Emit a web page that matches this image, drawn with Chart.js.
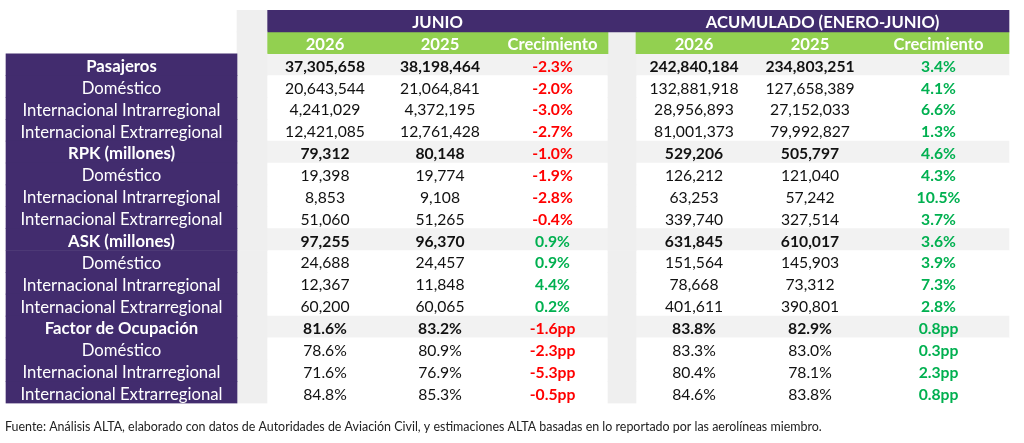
<!DOCTYPE html>
<html lang="es">
<head>
<meta charset="utf-8">
<title>ALTA - tráfico junio</title>
<script src="https://cdn.jsdelivr.net/npm/chart.js@4.4.1/dist/chart.umd.min.js"></script>
<style>
  html, body { margin: 0; padding: 0; background: #fff; }
  #wrap { position: relative; width: 1024px; height: 443px; }
</style>
</head>
<body>
<div id="wrap"><canvas id="tbl"></canvas></div>
<script>
// ---- data ----
const categories = [
  'Pasajeros', 'Doméstico', 'Internacional Intrarregional', 'Internacional Extrarregional',
  'RPK (millones)', 'Doméstico', 'Internacional Intrarregional', 'Internacional Extrarregional',
  'ASK (millones)', 'Doméstico', 'Internacional Intrarregional', 'Internacional Extrarregional',
  'Factor de Ocupación', 'Doméstico', 'Internacional Intrarregional', 'Internacional Extrarregional'
];
const totalRows = [0, 4, 8, 12];
// 'n' = integer count, 'p' = load factor in % (growth shown in pp)
const rowFormat = ['n','n','n','n', 'n','n','n','n', 'n','n','n','n', 'p','p','p','p'];

const periodHeaders = ['JUNIO', 'ACUMULADO (ENERO-JUNIO)'];
const columnHeaders = ['2026', '2025', 'Crecimiento'];

const jun2026 = [37305658, 20643544, 4241029, 12421085, 79312, 19398, 8853, 51060, 97255, 24688, 12367, 60200, 81.6, 78.6, 71.6, 84.8];
const jun2025 = [38198464, 21064841, 4372195, 12761428, 80148, 19774, 9108, 51265, 96370, 24457, 11848, 60065, 83.2, 80.9, 76.9, 85.3];
const junGrowth = [-2.3, -2.0, -3.0, -2.7, -1.0, -1.9, -2.8, -0.4, 0.9, 0.9, 4.4, 0.2, -1.6, -2.3, -5.3, -0.5];

const acc2026 = [242840184, 132881918, 28956893, 81001373, 529206, 126212, 63253, 339740, 631845, 151564, 78668, 401611, 83.8, 83.3, 80.4, 84.6];
const acc2025 = [234803251, 127658389, 27152033, 79992827, 505797, 121040, 57242, 327514, 610017, 145903, 73312, 390801, 82.9, 83.0, 78.1, 83.8];
const accGrowth = [3.4, 4.1, 6.6, 1.3, 4.6, 4.3, 10.5, 3.7, 3.6, 3.9, 7.3, 2.8, 0.8, 0.3, 2.3, 0.8];

const footnote = 'Fuente: Análisis ALTA, elaborado con datos de Autoridades de Aviación Civil, y estimaciones ALTA basadas en lo reportado por las aerolíneas miembro.';

// ---- layout & style ----
const W = 1024, H = 443;
const TABLE_TOP = 10, TABLE_BOTTOM = 403.5, FOOT_Y = 427, LEFT = 5;
const COL = {
  label: [6, 237], sp1: [237, 267],
  j26: [267, 383], j25: [383, 497], jgr: [497, 608],
  gap: [608, 636],
  a26: [636, 752], a25: [752, 868], agr: [868, 1009]
};
const PURPLE = '#422c6e', GREEN_HDR = '#92d050', SPACER = '#efefef', TOTAL_BG = '#f2f2f2';
const TXT = '#111111', RED = '#ff0000', GREEN_TXT = '#00b050', FOOT_TXT = '#222222';
const FONT = 'Lato, "Open Sans", sans-serif';
const TEXT_DY = 2;

const measureCtx = document.createElement('canvas').getContext('2d');
function fitSize(text, weight, target) {
  measureCtx.font = `${weight} 100px ${FONT}`;
  return 100 * target / measureCtx.measureText(text).width;
}
const labelSize = fitSize('Internacional Intrarregional', 'normal', 198);
const numSize = fitSize('20,643,544', 'normal', 80);
const hdrSize = fitSize('Crecimiento', 'bold', 90);
const footSize = fitSize(footnote, 'normal', 817);

// rows of the category axis: 2 header rows + data rows
const rowKeys = ['hdr-period', 'hdr-cols'].concat(categories.map((c, i) => `${i}:${c}`));
const isData = r => r >= 2;
const isTotal = r => totalRows.includes(r - 2);

function band(span, keep, color) {
  return {
    data: rowKeys.map((_, r) => keep(r) ? span : null),
    backgroundColor: typeof color === 'function' ? c => color(c.dataIndex) : color,
    grouped: false,
    barPercentage: 1,
    categoryPercentage: 1,
    borderWidth: 0,
    borderSkipped: false
  };
}

const datasets = [
  band(COL.label, isData, PURPLE),
  band(COL.sp1, () => true, SPACER),
  band([COL.j26[0], COL.agr[1]], r => r === 0, PURPLE),
  band([COL.j26[0], COL.jgr[1]], r => r === 1, GREEN_HDR),
  band([COL.a26[0], COL.agr[1]], r => r === 1, GREEN_HDR),
  band(COL.gap, r => r >= 1, SPACER),
  band([COL.j26[0], COL.jgr[1]], isData, r => isTotal(r) ? TOTAL_BG : '#ffffff'),
  band([COL.a26[0], COL.agr[1]], isData, r => isTotal(r) ? TOTAL_BG : '#ffffff')
];

const fmtInt = new Intl.NumberFormat('en-US');
function fmtValue(v, kind) {
  return kind === 'p' ? v.toFixed(1) + '%' : fmtInt.format(v);
}
function fmtGrowth(v, kind) {
  return (v < 0 ? '-' : '') + Math.abs(v).toFixed(1) + (kind === 'p' ? 'pp' : '%');
}
const mid = span => (span[0] + span[1]) / 2;

const tableText = {
  id: 'tableText',
  afterDatasetsDraw(chart) {
    const { ctx, scales: { x, y } } = chart;
    const put = (text, span, row, size, weight, color) => {
      ctx.font = `${weight} ${size}px ${FONT}`;
      ctx.fillStyle = color;
      ctx.fillText(text, x.getPixelForValue(mid(span)), y.getPixelForValue(row) + TEXT_DY);
    };
    ctx.save();
    ctx.textAlign = 'center';
    ctx.textBaseline = 'middle';

    put(periodHeaders[0], [COL.j26[0], COL.jgr[1]], 0, hdrSize, 'bold', '#ffffff');
    put(periodHeaders[1], [COL.a26[0], COL.agr[1]], 0, hdrSize, 'bold', '#ffffff');
    [[COL.j26, COL.j25, COL.jgr], [COL.a26, COL.a25, COL.agr]].forEach(group => {
      group.forEach((span, i) => put(columnHeaders[i], span, 1, hdrSize, 'bold', '#ffffff'));
    });

    categories.forEach((cat, i) => {
      const r = i + 2;
      const w = totalRows.includes(i) ? 'bold' : 'normal';
      const k = rowFormat[i];
      put(cat, COL.label, r, labelSize, w, '#ffffff');
      put(fmtValue(jun2026[i], k), COL.j26, r, numSize, w, TXT);
      put(fmtValue(jun2025[i], k), COL.j25, r, numSize, w, TXT);
      put(fmtGrowth(junGrowth[i], k), COL.jgr, r, numSize, 'bold', junGrowth[i] < 0 ? RED : GREEN_TXT);
      put(fmtValue(acc2026[i], k), COL.a26, r, numSize, w, TXT);
      put(fmtValue(acc2025[i], k), COL.a25, r, numSize, w, TXT);
      put(fmtGrowth(accGrowth[i], k), COL.agr, r, numSize, 'bold', accGrowth[i] < 0 ? RED : GREEN_TXT);
    });
    ctx.restore();
  }
};

const footLine = footSize * 1.2;
const footPadTop = FOOT_Y - TABLE_BOTTOM - footLine / 2;
const footPadBottom = H - TABLE_BOTTOM - footLine - footPadTop;

new Chart(document.getElementById('tbl'), {
  type: 'bar',
  data: { labels: rowKeys, datasets },
  options: {
    indexAxis: 'y',
    responsive: true,
    maintainAspectRatio: false,
    animation: false,
    events: [],
    layout: { padding: { left: LEFT, right: 0, top: TABLE_TOP, bottom: 0 } },
    scales: {
      x: { type: 'linear', min: LEFT, max: W, display: false },
      y: { type: 'category', display: false, offset: true }
    },
    plugins: {
      legend: { display: false },
      tooltip: { enabled: false },
      title: {
        display: true,
        position: 'bottom',
        align: 'start',
        text: footnote,
        color: FOOT_TXT,
        font: { family: FONT, size: footSize, weight: 'normal', lineHeight: 1.2 },
        padding: { top: footPadTop, bottom: footPadBottom }
      }
    }
  },
  plugins: [tableText]
});
</script>
</body>
</html>
